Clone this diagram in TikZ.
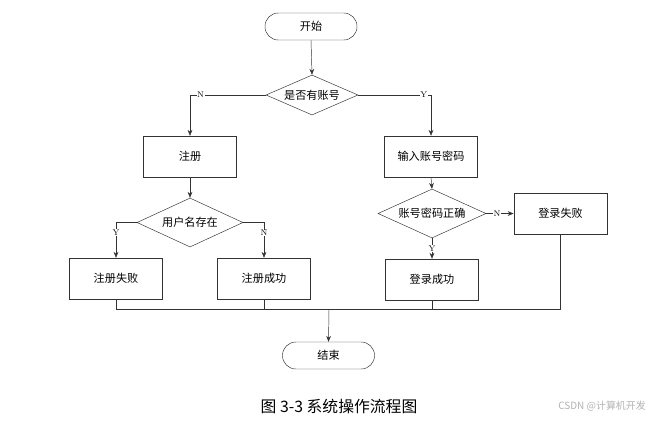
\documentclass[tikz,border=0pt]{standalone}
\usepackage{fontspec}
\newfontfamily\cjk{Noto Sans CJK SC}
\usetikzlibrary{shapes.geometric, positioning, arrows.meta, calc}
\tikzset{
  terminal/.style={
    rectangle,
    rounded corners=4mm,
    draw=black!80, thin,
    minimum width=2.76cm,
    minimum height=0.81cm,
    inner sep=2pt,
    text centered,
    font=\cjk\fontsize{9.5}{11}\selectfont
  },
  process/.style={
    rectangle,
    draw=black!80, thin,
    minimum width=2.8cm,
    minimum height=1.23cm,
    inner sep=2pt,
    text centered,
    font=\cjk\fontsize{9.5}{11}\selectfont
  },
  decision/.style={
    diamond,
    draw=black!80, thin,
    inner sep=0pt,
    aspect=2.2,
    text centered,
    font=\cjk\fontsize{9.5}{11}\selectfont
  },
  yn/.style={
    fill=white,
    inner sep=0.5pt,
    font=\fontsize{7}{8}\selectfont
  },
  arrow/.style={
    draw=black!80,
    thin,
    -{Stealth[length=5pt,width=4pt]}
  },
  line/.style={
    draw=black!80,
    thin
  }
}

\begin{document}
\begin{tikzpicture}[x=0.03cm, y=-0.03cm]
% Flow chart: register / login
\useasboundingbox (0,0) rectangle (657,420);

% nodes
\node[terminal] (start) at (311,26.5) {开始};

\node[decision, minimum width=2.76cm, minimum height=1.2cm] (hasacc) at (312,95) {是否有账号};

\node[process] (reg) at (190,156.5) {注册};
\node[process] (input) at (431,156.5) {输入账号密码};

\node[decision, minimum width=3.18cm, minimum height=1.47cm] (exists) at (190,222.5) {用户名存在};
\node[decision, minimum width=3.24cm, minimum height=1.47cm] (check) at (432,213.5) {账号密码正确};

\node[process] (regfail) at (116,278.5) {注册失败};
\node[process] (regok) at (264,278.5) {注册成功};
\node[process] (loginok) at (432,279.5) {登录成功};
\node[process] (loginfail) at (560.5,213.5) {登录失败};

\coordinate (merge) at (329,309);

\node[terminal] (end) at (328.5,355.5) {结束};

% caption
\node[font=\cjk\fontsize{13.5}{16}\selectfont] (caption) at (339,406) {图 3-3 系统操作流程图};
\node[font=\cjk\fontsize{8.5}{10}\selectfont, text=black!30, anchor=east] (mark) at (650,406) {CSDN @计算机开发};

% edges

%% start
\draw [arrow] (start.south) -- (hasacc.north);

%% hasacc
\draw [arrow] (hasacc.west) -| node[yn, pos=0.43]{N} (reg.north);
\draw [arrow] (hasacc.east) -| node[yn, pos=0.45]{Y} (input.north);

%% register
\draw [arrow] (reg.south) -- (exists.north);
\draw [arrow] (exists.west) -| node[yn, pos=0.64]{Y} (regfail.north);
\draw [arrow] (exists.east) -| node[yn, pos=0.65]{N} (regok.north);

%% login
\draw [arrow] (input.south) -- (check.north);
\draw [arrow] (check.east) -- node[yn, pos=0.4]{N} (loginfail.west);
\draw [arrow] (check.south) -- node[yn]{Y} (loginok.north);

%% end
\draw [line] (regfail.south) |- (merge);
\draw [line] (regok.south) |- (merge);
\draw [line] (loginok.south) |- (merge);
\draw [line] (loginfail.south) |- (merge);
\draw [arrow] (merge) -- (end.north);

\end{tikzpicture}
\end{document}
